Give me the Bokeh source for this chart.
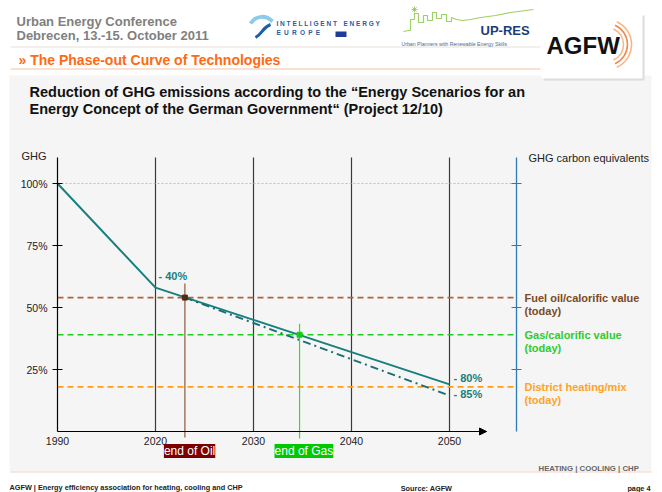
import numpy as np
from bokeh.plotting import figure
from bokeh.models import (Range1d, LinearAxis, FixedTicker, Label, Arrow,
                          NormalHead, PrintfTickFormatter)
from bokeh.embed import file_html
from bokeh.resources import INLINE

FONT = "Liberation Sans"

# ---------------- data ----------------
years = [1990, 2020, 2030, 2040, 2050]
ghg_path = [100, 58, 45, 32, 19]            # solid curve, % of 1990
alt_years = [2023, 2050]
ghg_alt = [54, 14.5]                         # dash-dot curve
y_ticks = [25, 50, 75, 100]
ref_names = ["Fuel oil/calorific value", "Gas/calorific value", "District heating/mix"]
ref_values = [54, 39, 18]
ref_colors = ["#b2623a", "#22cc22", "#ff9d1a"]
ref_text_colors = ["#7c4a22", "#2ecc2e", "#ffa326"]
oil_end_year = 2023
gas_end_year = 2034.7
reduction_labels = ["- 40%", "- 80%", "- 85%"]

slots = list(range(len(years)))


def xpos(yr):
    return np.interp(yr, years, slots)


TEAL = "#17807f"
PANEL = "#f5f5f5"
W, H = 662, 492

# ---------------- geometry (page px) ----------------
PX_L, PX_R, PX_T, PX_B = 57, 516, 157, 431
XU, YU = 98.0, 2.48


def X(px):
    return (px - PX_L) / XU


def Y(py):
    return (PX_B - py) / YU


def lab(fig, px, py, text, size, color, bold=False, align="left",
        baseline="middle", **kw):
    fig.add_layout(Label(x=X(px), y=Y(py), text=text, text_font=FONT,
                         text_font_size=f"{size}px", text_color=color,
                         text_font_style="bold" if bold else "normal",
                         text_align=align, text_baseline=baseline, **kw))


p = figure(width=W, height=H, x_range=Range1d(X(0), X(W)),
           y_range=Range1d(Y(H), Y(0)), output_backend="svg",
           toolbar_location=None, min_border=0, min_border_left=0,
           min_border_right=0, min_border_top=0, min_border_bottom=0,
           background_fill_color="white", border_fill_color="white",
           outline_line_color=None)
p.grid.visible = False

# ---------------- slide backgrounds ----------------
p.quad(left=[X(9)], right=[X(651)], top=[Y(75)], bottom=[Y(471)],
       fill_color=PANEL, line_color=None)
p.segment(x0=[X(10)], y0=[Y(46.5)], x1=[X(540)], y1=[Y(46.5)],
          line_color="#eadfd8", line_width=1)
p.segment(x0=[X(10)], y0=[Y(68.5)], x1=[X(540)], y1=[Y(68.5)],
          line_color="#f8d6c4", line_width=1.5)
p.segment(x0=[X(10)], y0=[Y(471.5)], x1=[X(651)], y1=[Y(471.5)],
          line_color="#f6d2c2", line_width=1)

# ---------------- axes ----------------
x_right = X(PX_R)
y_top = Y(PX_T)

p.xaxis.fixed_location = 0
p.xaxis.ticker = FixedTicker(ticks=slots)
p.xaxis.major_label_overrides = {s: str(y) for s, y in zip(slots, years)}
p.xaxis.bounds = (0, X(486))
p.xaxis.axis_line_color = "black"
p.xaxis.axis_line_width = 1.2
p.xaxis.major_tick_in = 0
p.xaxis.major_tick_out = 0
p.xaxis.minor_tick_line_color = None
p.xaxis.major_label_standoff = 5
p.xaxis.major_label_text_font = FONT
p.xaxis.major_label_text_font_size = "10.5px"
p.xaxis.major_label_text_color = "#222222"

p.yaxis.fixed_location = 0
p.yaxis.ticker = FixedTicker(ticks=y_ticks)
p.yaxis.formatter = PrintfTickFormatter(format="%d%%")
p.yaxis.bounds = (0, y_top)
p.yaxis.axis_line_color = "black"
p.yaxis.axis_line_width = 1.2
p.yaxis.major_tick_line_color = "black"
p.yaxis.major_tick_in = 5
p.yaxis.major_tick_out = 5
p.yaxis.minor_tick_line_color = None
p.yaxis.major_label_standoff = 5
p.yaxis.major_label_text_font = FONT
p.yaxis.major_label_text_font_size = "10.5px"
p.yaxis.major_label_text_color = "#222222"

raxis = LinearAxis(ticker=FixedTicker(ticks=y_ticks), bounds=(0, y_top),
                   fixed_location=x_right,
                   axis_line_color="#2b7bb6", axis_line_width=1.3,
                   major_tick_line_color="#2b7bb6", major_tick_in=5,
                   major_tick_out=5, minor_tick_line_color=None,
                   major_label_text_color=None)
p.add_layout(raxis, "right")

# vertical year lines
p.segment(x0=xpos(years[1:]), y0=0, x1=xpos(years[1:]), y1=y_top,
          line_color="#3a3a3a", line_width=1.2)

# arrow head on x axis
p.add_layout(Arrow(end=NormalHead(size=7, fill_color="black", line_color="black"),
                   x_start=X(478), y_start=0, x_end=X(486), y_end=0,
                   line_color="black", line_width=1.2))

# 100% reference line
p.segment(x0=[0], y0=[100], x1=[x_right], y1=[100], line_color="#a9c2e2",
          line_dash="2 2", line_width=1)

# reference (today) lines
p.segment(x0=[0] * 3, y0=ref_values, x1=[x_right] * 3, y1=ref_values,
          line_color=ref_colors, line_dash="6 4", line_width=1.6)

# curves
p.line(xpos(years), ghg_path, line_color=TEAL, line_width=2)
p.line(xpos(alt_years), ghg_alt, line_color="#1a6f74", line_width=2,
       line_dash="8 4 2 4")

# end of oil / gas markers
xo = float(xpos(oil_end_year))
xg = float(xpos(gas_end_year))
p.segment(x0=[xo], y0=[ref_values[0] + 14 / YU], x1=[xo], y1=[-6 / YU],
          line_color="#8b5a3a", line_width=1.2)
p.segment(x0=[xg], y0=[ref_values[1] + 11 / YU], x1=[xg], y1=[-7 / YU],
          line_color="#33dd33", line_width=1.2)
p.scatter([xo], [ref_values[0]], marker="square", size=5, color="#5a2a10")
p.scatter([xg], [ref_values[1]], marker="square", size=5, color="#11cc11")


def dlab(x, y, text, size, color, bold=False, baseline="middle", **kw):
    p.add_layout(Label(x=x, y=y, text=text, text_font=FONT,
                       text_font_size=f"{size}px", text_color=color,
                       text_font_style="bold" if bold else "normal",
                       text_align="left", text_baseline=baseline, **kw))


dlab(xo - 21 / XU, -12.5 / YU, "end of Oil", 12, "white", baseline="top",
     background_fill_color="#7d0000", padding=0)
dlab(xg - 25 / XU, -12.5 / YU, "end of Gas", 12, "white", baseline="top",
     background_fill_color="#00c800", padding=0)

dlab(xpos(2020) + 3 / XU, ghg_path[1] + 11.5 / YU, reduction_labels[0], 11, TEAL, bold=True)
dlab(xpos(2050) + 4 / XU, ghg_path[-1] + 6 / YU, reduction_labels[1], 11, TEAL, bold=True)
dlab(xpos(2050) + 4 / XU, ghg_alt[-1] + 2 / YU, reduction_labels[2], 11, TEAL, bold=True)

for v, name, c in zip(ref_values, ref_names, ref_text_colors):
    dlab(X(524), v, name, 11, c, bold=True)
    dlab(X(524), v - 13.5 / YU, "(today)", 11, c, bold=True)

lab(p, 21, 155, "GHG", 11, "#222222")
lab(p, 528, 157, "GHG carbon equivalents", 11, "#222222")
lab(p, 29, 91, "Reduction of GHG emissions according to the \u201cEnergy Scenarios for an",
    14.5, "#111111", bold=True)
lab(p, 29, 108, "Energy Concept of the German Government\u201c (Project 12/10)",
    14.5, "#111111", bold=True)
lab(p, 538, 468, "HEATING | COOLING | CHP", 7.8, "#666666", bold=True)

# ---------------- header ----------------
lab(p, 16, 21, "Urban Energy Conference", 13, "#808080", bold=True)
lab(p, 16, 35, "Debrecen, 13.-15. October 2011", 13, "#808080", bold=True)
lab(p, 18, 59, "\u00bb The Phase-out Curve of Technologies", 14, "#ff6a13", bold=True)

# Intelligent Energy Europe logo (approximation)
p.bezier(x0=[X(250)], y0=[Y(23)], x1=[X(272)], y1=[Y(21)], cx0=[X(256)], cy0=[Y(14)],
         cx1=[X(266)], cy1=[Y(15)], line_color="#8ccbeb", line_width=4)
p.bezier(x0=[X(255)], y0=[Y(37)], x1=[X(270)], y1=[Y(24)], cx0=[X(262)], cy0=[Y(33)],
         cx1=[X(262)], cy1=[Y(27)], line_color="#1f5da6", line_width=3)
lab(p, 276, 22.5, "I N T E L L I G E N T\u2003E N E R G Y", 6.5, "#1f5da6", bold=True)
lab(p, 276, 32, "E\u2002U\u2002R\u2002O\u2002P\u2002E", 6.5, "#1f5da6", bold=True)
p.quad(left=[X(335)], right=[X(346)], top=[Y(31)], bottom=[Y(36.5)],
       fill_color="#203c9a", line_color=None)

# UP-RES logo (approximation)
sx = [403, 408, 410, 410, 414, 414, 418, 418, 423, 423, 427, 427, 432, 432, 436, 436,
      441, 441, 446, 446, 451, 451, 456, 462, 470, 480, 495, 510, 533]
sy = [31, 30, 30, 19, 19, 13, 13, 22, 22, 15, 15, 20, 20, 12, 12, 18,
      18, 14, 14, 21, 21, 17, 19, 20, 19, 17, 15, 12, 9]
p.line([X(v) for v in sx], [Y(v) for v in sy], line_color="#9fd067", line_width=1.2)
p.scatter([X(414)], [Y(9)], marker="asterisk", size=6, line_color="#9fd067")
lab(p, 480, 30, "UP-RES", 13, "#1d3c7a", bold=True)
lab(p, 401, 43, "Urban Planners with Renewable Energy Skills", 5.2, "#4a6a96")

# AGFW box
p.quad(left=[X(543)], right=[X(644)], top=[Y(15)], bottom=[Y(80)],
       fill_color="#dcdcdc", line_color=None)
p.quad(left=[X(541)], right=[X(642)], top=[Y(13)], bottom=[Y(78)],
       fill_color="white", line_color=None)
for r, c in zip([17, 21, 25], ["#f6b68c", "#ef8a4d", "#f6b68c"]):
    p.arc(x=[X(606)], y=[Y(44)], radius=r / XU, start_angle=-1.15, end_angle=1.15,
          line_color=c, line_width=1.6)
lab(p, 546, 45, "AGFW", 24, "#111111", bold=True)

# ---------------- footer ----------------
lab(p, 9, 487, "AGFW | Energy efficiency association for heating, cooling and CHP", 7.3,
    "#222222", bold=True)
lab(p, 426, 488, "Source: AGFW", 7.3, "#222222", bold=True, align="center")
lab(p, 650, 488, "page 4", 7.3, "#222222", bold=True, align="right")

open("out.html", "w").write(file_html(p, INLINE))
